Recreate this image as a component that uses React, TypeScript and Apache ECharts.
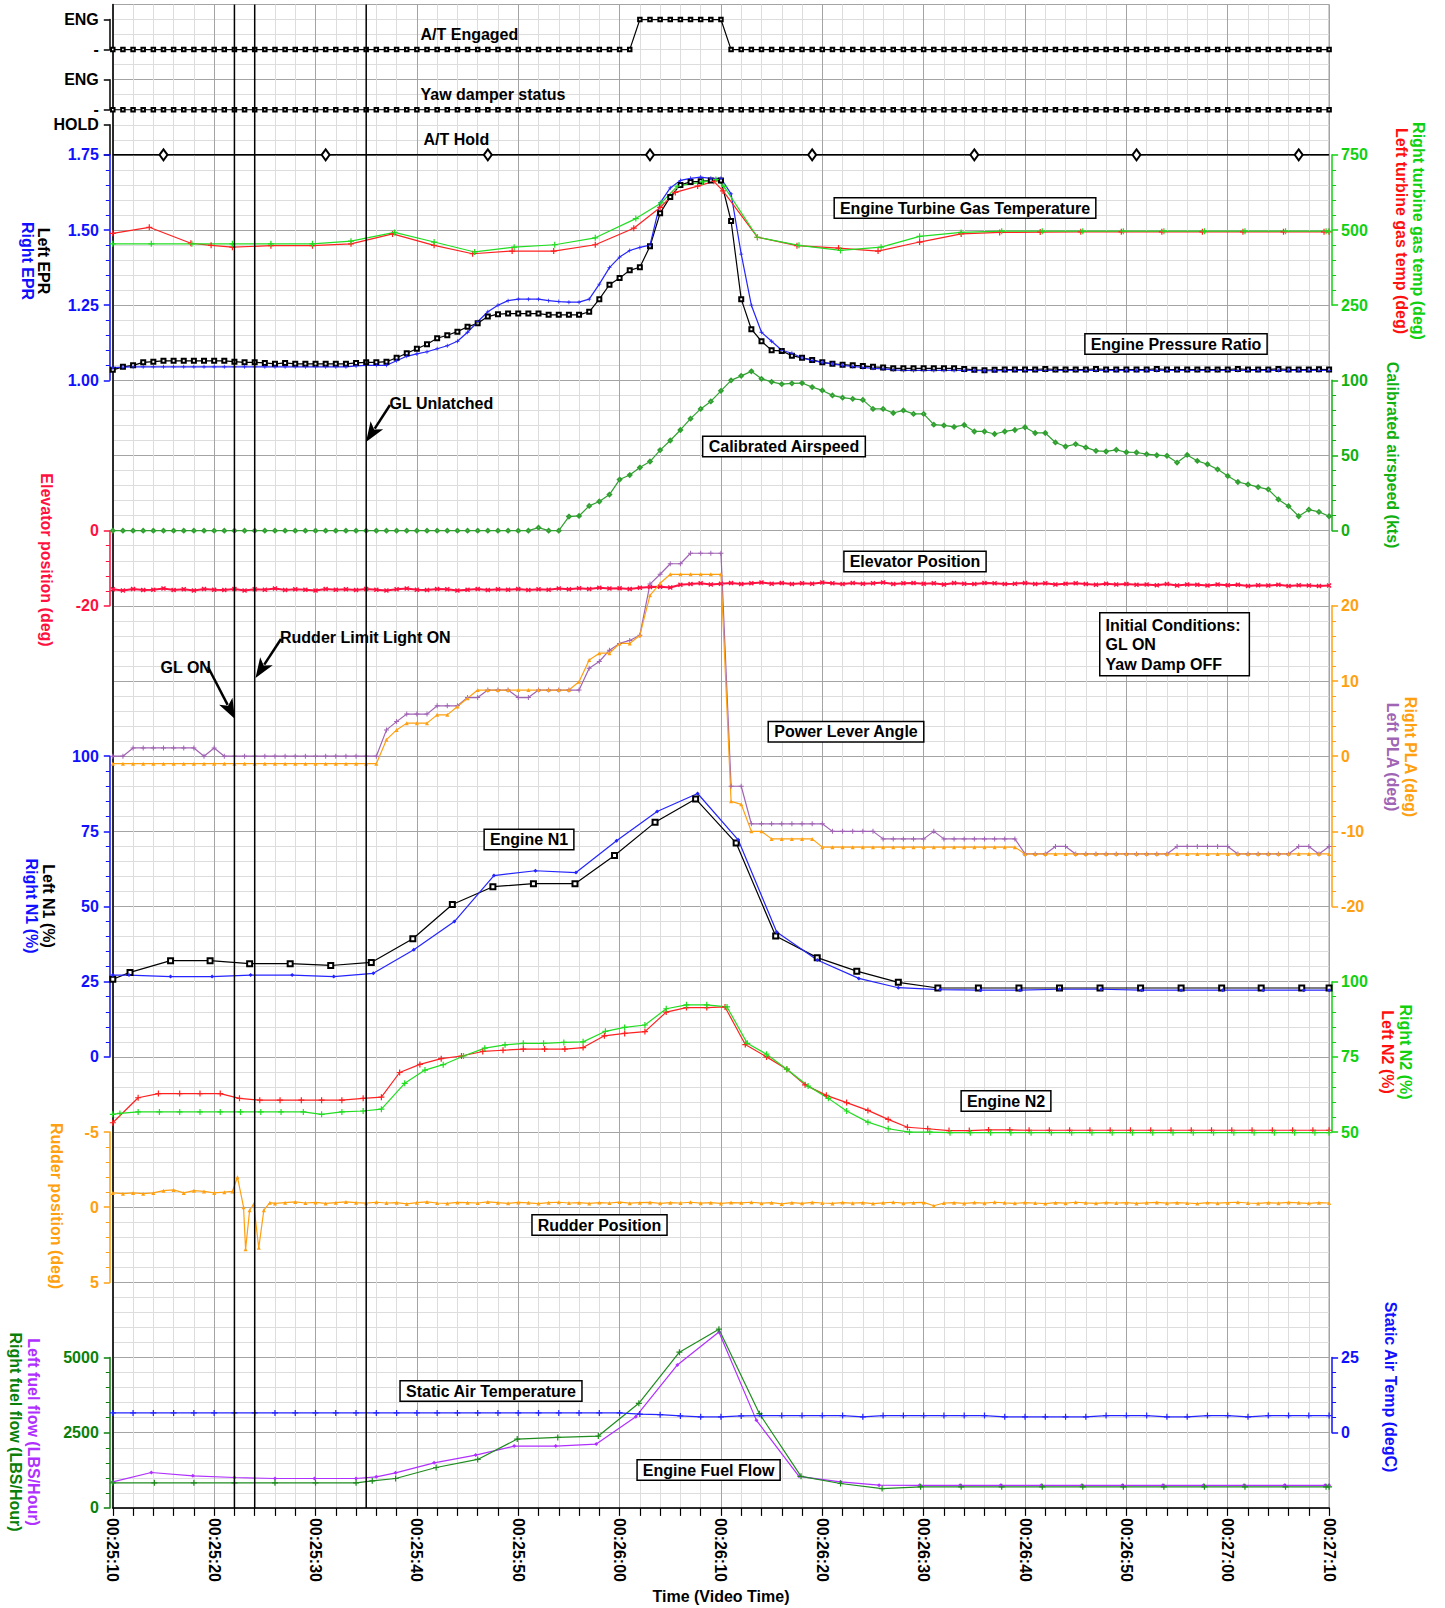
import React, { useEffect, useRef } from 'react';
import * as echarts from 'echarts';

// ---------------- time axis ----------------
const timeLabels = ['00:25:10', '00:25:20', '00:25:30', '00:25:40', '00:25:50', '00:26:00', '00:26:10',
  '00:26:20', '00:26:30', '00:26:40', '00:26:50', '00:27:00', '00:27:10'];

// event marker times, seconds after 00:25:10 (GL ON, Rudder Limit Light ON, GL Unlatched)
const eventTimes = [12, 14, 25];

// ---------------- discrete status, 1 s samples ----------------
const atEngagedBits =
  '0000000000 0000000000 0000000000 0000000000 0000000000 0011111111 1000000000 0000000000 0000000000 0000000000 0000000000 0000000000 0';
const yawDamperBits =
  '0000000000 0000000000 0000000000 0000000000 0000000000 0000000000 0000000000 0000000000 0000000000 0000000000 0000000000 0000000000 0';
const atHoldTimes = [5, 21, 37, 53, 69, 85, 101, 117];

// ---------------- EPR, 1 s samples ----------------
const eprLeft = [
  1.035, 1.045, 1.050, 1.060, 1.062, 1.065, 1.065, 1.065, 1.065, 1.065,
  1.065, 1.065, 1.062, 1.060, 1.060, 1.058, 1.055, 1.058, 1.055, 1.055,
  1.055, 1.055, 1.055, 1.055, 1.058, 1.060, 1.060, 1.062, 1.075, 1.090,
  1.105, 1.120, 1.140, 1.150, 1.162, 1.178, 1.190, 1.212, 1.220, 1.222,
  1.222, 1.222, 1.222, 1.218, 1.218, 1.218, 1.218, 1.228, 1.270, 1.318,
  1.340, 1.366, 1.376, 1.446, 1.556, 1.610, 1.650, 1.660, 1.662, 1.665,
  1.665, 1.530, 1.270, 1.170, 1.130, 1.100, 1.098, 1.082, 1.075, 1.068,
  1.060, 1.055, 1.052, 1.050, 1.048, 1.045, 1.043, 1.040, 1.040, 1.040,
  1.040, 1.040, 1.040, 1.040, 1.038, 1.035, 1.034, 1.035, 1.036, 1.036,
  1.036, 1.036, 1.038, 1.036, 1.036, 1.036, 1.036, 1.038, 1.036, 1.036,
  1.036, 1.036, 1.036, 1.038, 1.036, 1.036, 1.036, 1.036, 1.036, 1.036,
  1.036, 1.038, 1.036, 1.036, 1.036, 1.038, 1.036, 1.036, 1.036, 1.037,
  1.036,
];
const eprRight = [
  1.042, 1.044, 1.045, 1.045, 1.045, 1.045, 1.045, 1.045, 1.045, 1.045,
  1.045, 1.045, 1.045, 1.045, 1.045, 1.045, 1.045, 1.045, 1.045, 1.045,
  1.045, 1.045, 1.045, 1.045, 1.048, 1.050, 1.050, 1.050, 1.065, 1.080,
  1.088, 1.095, 1.105, 1.115, 1.130, 1.160, 1.195, 1.228, 1.250, 1.265,
  1.270, 1.270, 1.270, 1.265, 1.262, 1.260, 1.260, 1.270, 1.320, 1.375,
  1.410, 1.432, 1.442, 1.450, 1.590, 1.640, 1.665, 1.672, 1.676, 1.672,
  1.672, 1.620, 1.420, 1.250, 1.160, 1.130, 1.100, 1.090, 1.075, 1.066,
  1.060, 1.055, 1.050, 1.046, 1.043, 1.040, 1.038, 1.035, 1.033, 1.033,
  1.033, 1.033, 1.033, 1.033, 1.033, 1.033, 1.032, 1.032, 1.033, 1.033,
  1.033, 1.033, 1.033, 1.033, 1.033, 1.033, 1.033, 1.033, 1.033, 1.033,
  1.033, 1.033, 1.033, 1.033, 1.033, 1.033, 1.033, 1.033, 1.033, 1.033,
  1.033, 1.033, 1.033, 1.033, 1.033, 1.033, 1.033, 1.033, 1.033, 1.033,
  1.033,
];

// ---------------- turbine gas temperature [s, deg] ----------------
const tgtLeft = [[0, 489], [3.6, 509], [7.7, 456], [9.7, 449], [11.8, 443], [15.6, 448], [19.7, 448], [23.5, 454],
  [27.6, 487], [31.7, 449], [35.5, 421], [39.4, 430], [43.5, 430], [47.6, 451], [51.4, 506], [54.0, 575], [55.5, 625],
  [57.7, 646], [59.3, 662], [60.2, 630], [63.6, 476], [67.5, 448], [71.6, 440], [75.5, 430], [79.6, 460], [83.7, 487],
  [87.5, 492], [91.5, 493], [95.5, 494], [99.5, 494], [103.5, 494], [107.5, 494], [111.5, 494], [115.5, 494],
  [119.5, 494], [120, 494]];
const tgtRight = [[0, 454], [3.8, 454], [7.8, 454], [11.8, 454], [15.6, 454], [19.7, 454], [23.5, 463], [27.8, 492],
  [31.7, 460], [35.7, 427], [39.6, 443], [43.6, 451], [47.6, 474], [51.6, 538], [54.1, 590], [55.7, 646], [58.2, 660],
  [59.5, 668], [60.3, 645], [63.6, 476], [67.7, 449], [71.8, 432], [75.8, 443], [79.6, 479], [83.7, 492], [87.7, 496],
  [91.7, 496], [95.7, 496], [99.7, 496], [103.7, 496], [107.7, 496], [111.7, 496], [115.7, 496], [119.7, 496], [120, 496]];

// ---------------- calibrated airspeed, 1 s samples (kts) ----------------
const airspeed = [
  0, 0, 0, 0, 0, 0, 0, 0, 0, 0,
  0, 0, 0, 0, 0, 0, 0, 0, 0, 0,
  0, 0, 0, 0, 0, 0, 0, 0, 0, 0,
  0, 0, 0, 0, 0, 0, 0, 0, 0, 0,
  0, 0, 2, 0, 0, 9.4, 9.8, 16.5, 19.4, 24,
  34, 37, 42, 46, 53.6, 60, 67, 74.5, 81, 86,
  93, 100, 103, 106, 101, 99, 97.5, 98, 98.2, 95.5,
  93.3, 90, 88.5, 87.7, 87, 81, 81, 78.3, 80, 77.7,
  77.7, 70.5, 70, 69, 70.3, 66, 66, 64.3, 66, 67,
  68.8, 65, 65, 58.7, 56, 57.6, 55.4, 53.1, 52.7, 53.8,
  52.2, 52, 50.9, 50.2, 49.8, 45.3, 50.4, 46.4, 44.2, 40.8,
  36.4, 32.4, 30.8, 29, 27.5, 20.8, 16.3, 9.6, 14, 12.5,
  9.6,
];

// ---------------- elevator position, 1 s samples (deg) ----------------
const elevator = [
  -15.6, -15.9, -15.5, -15.8, -15.7, -15.4, -15.8, -15.6, -15.9, -15.5,
  -15.7, -15.8, -15.5, -15.9, -15.6, -15.7, -15.4, -15.8, -15.6, -15.7,
  -15.9, -15.5, -15.7, -15.6, -15.8, -15.5, -15.7, -15.9, -15.6, -15.4,
  -15.7, -15.8, -15.5, -15.6, -15.9, -15.7, -15.5, -15.8, -15.6, -15.7,
  -15.5, -15.8, -15.6, -15.7, -15.4, -15.6, -15.3, -15.5, -15.2, -15.4,
  -15.3, -15.5, -15.2, -15.0, -14.9, -15.1, -14.4, -14.2, -14.0, -14.3,
  -14.1, -13.9, -14.2, -14.0, -13.8, -14.1, -13.9, -14.2, -14.0, -14.1,
  -13.8, -14.0, -14.2, -13.9, -14.1, -14.0, -13.8, -14.2, -14.0, -13.9,
  -14.1, -14.0, -14.3, -13.9, -14.1, -14.2, -13.9, -14.0, -14.2, -14.1,
  -13.9, -14.2, -14.0, -14.3, -14.1, -14.0, -14.2, -14.4, -14.1, -14.3,
  -14.2, -14.4, -14.3, -14.5, -14.2, -14.6, -14.3, -14.4, -14.6, -14.3,
  -14.5, -14.4, -14.7, -14.5, -14.6, -14.4, -14.7, -14.5, -14.6, -14.7,
  -14.6,
];

// ---------------- power lever angle, 1 s samples (deg) ----------------
const plaLeft = [
  0, 0, 1.1, 1.1, 1.1, 1.1, 1.1, 1.1, 1.1, 0,
  1.1, 0, 0, 0, 0, 0, 0, 0, 0, 0,
  0, 0, 0, 0, 0, 0, 0, 3.5, 4.6, 5.6,
  5.6, 5.6, 6.7, 6.7, 6.7, 7.8, 7.8, 8.8, 8.8, 8.8,
  7.8, 7.8, 8.8, 8.8, 8.8, 8.8, 8.8, 11.7, 12.6, 14.1,
  15, 15.4, 16.1, 22.9, 24.2, 25.6, 25.6, 27, 27, 27,
  27, -4, -4, -9, -9, -9, -9, -9, -9, -9,
  -9, -10, -10, -10, -10, -10, -11, -11, -11, -11,
  -11, -10, -11, -11, -11, -11, -11, -11, -11, -11,
  -13, -13, -13, -12, -12, -13, -13, -13, -13, -13,
  -13, -13, -13, -13, -13, -12, -12, -12, -12, -12,
  -12, -13, -13, -13, -13, -13, -13, -12, -12, -13,
  -12,
];
const plaRight = [
  -1, -1, -1, -1, -1, -1, -1, -1, -1, -1,
  -1, -1, -1, -1, -1, -1, -1, -1, -1, -1,
  -1, -1, -1, -1, -1, -1, -1, 2.2, 3.5, 4.4,
  4.4, 4.4, 5.5, 5.5, 6.6, 7.7, 8.8, 8.8, 8.8, 8.8,
  8.8, 8.8, 8.8, 8.8, 8.8, 8.8, 9.9, 12.8, 13.7, 13.7,
  15, 15, 16.1, 21.4, 23, 24.2, 24.2, 24.2, 24.2, 24.2,
  24.2, -6, -6.4, -10, -10, -11, -11, -11, -11, -11,
  -12.1, -12.1, -12.1, -12.1, -12.1, -12.1, -12.1, -12.1, -12.1, -12.1,
  -12.1, -12.1, -12.1, -12.1, -12.1, -12.1, -12.1, -12.1, -12.1, -12.1,
  -13, -13, -13, -13, -13, -13, -13, -13, -13, -13,
  -13, -13, -13, -13, -13, -13, -13, -13, -13, -13,
  -13, -13, -13, -13, -13, -13, -13, -13, -13, -13,
  -13,
];

// ---------------- N1 [s, %] ----------------
const n1Left = [[0, 25.8], [1.7, 28.1], [5.7, 32], [9.6, 32], [13.5, 31], [17.5, 31], [21.5, 30.4], [25.5, 31.4],
  [29.6, 39.3], [33.5, 50.7], [37.5, 56.6], [41.5, 57.6], [45.6, 57.6], [49.5, 67], [53.5, 78], [57.5, 85.8],
  [61.5, 71.1], [65.4, 40.2], [69.5, 33], [73.4, 28.5], [77.5, 24.8], [81.4, 22.9], [85.4, 22.9], [89.4, 22.9],
  [93.4, 22.9], [97.4, 22.9], [101.4, 22.9], [105.4, 22.9], [109.4, 22.9], [113.3, 22.9], [117.3, 22.9], [120, 22.9]];
const n1Right = [[0, 27.2], [1.6, 27.2], [5.7, 26.7], [9.8, 26.7], [13.6, 27.2], [17.7, 27.2], [21.8, 26.7],
  [25.7, 27.8], [29.7, 35.6], [33.7, 45], [37.6, 60.3], [41.7, 61.9], [45.7, 61.3], [49.7, 71.9], [53.7, 81.6],
  [57.7, 87.6], [61.7, 72.2], [65.5, 41.5], [69.5, 32.2], [73.6, 26.1], [77.5, 23], [81.6, 22.4], [85.6, 22.2],
  [89.5, 22.2], [93.4, 22.5], [97.5, 22.5], [101.5, 22.2], [105.4, 22.2], [109.5, 22.2], [113.5, 22.2],
  [117.5, 22.2], [120, 22.2]];

// ---------------- N2 [s, %] ----------------
const n2Left = [[0, 53.1], [2.5, 61.4], [4.5, 62.8], [6.6, 62.8], [8.6, 62.8], [10.6, 62.8], [12.5, 61.2], [14.5, 60.6],
  [16.5, 60.6], [18.6, 60.6], [20.6, 60.6], [22.6, 60.6], [24.7, 61.2], [26.5, 61.6], [28.3, 69.8], [30.3, 72.5],
  [32.4, 74.4], [34.4, 75.3], [36.5, 76.8], [38.5, 77.2], [40.5, 77.6], [42.6, 77.6], [44.6, 77.6], [46.4, 78.1],
  [48.5, 82], [50.5, 82.8], [52.5, 83.4], [54.6, 89.9], [56.6, 91.4], [58.6, 91.4], [60.4, 91.6], [62.4, 79.1],
  [64.5, 75], [66.5, 70.9], [68.3, 65.7], [70.4, 62.2], [72.4, 59.8], [74.5, 57.2], [76.5, 54.2], [78.4, 51.6],
  [80.4, 51.1], [82.5, 50.5], [84.5, 50.5], [86.4, 50.7], [88.5, 50.7], [90.4, 50.6], [92.4, 50.6], [94.4, 50.6],
  [96.4, 50.6], [98.4, 50.6], [100.4, 50.6], [102.4, 50.6], [104.4, 50.6], [106.4, 50.6], [108.4, 50.6],
  [110.4, 50.6], [112.4, 50.6], [114.4, 50.6], [116.4, 50.6], [118.4, 50.6], [120, 50.6]];
const n2Right = [[0, 55.9], [0.7, 56.2], [2.5, 56.7], [4.6, 56.7], [6.6, 56.7], [8.6, 56.7], [10.6, 56.7], [12.6, 56.7],
  [14.6, 56.7], [16.6, 56.7], [18.8, 56.7], [20.6, 55.9], [22.6, 56.7], [24.7, 57], [26.5, 57.6], [28.8, 66.2],
  [30.8, 70.6], [32.6, 72.4], [34.6, 75.3], [36.7, 77.9], [38.7, 79], [40.5, 79.5], [42.5, 79.5], [44.5, 79.8],
  [46.4, 80], [48.6, 83.5], [50.5, 84.8], [52.5, 85.6], [54.6, 91], [56.6, 92.3], [58.6, 92.3], [60.6, 91.6],
  [62.6, 79.5], [64.5, 75.9], [66.5, 70.9], [68.6, 65.3], [70.6, 61.2], [72.4, 57], [74.5, 53.3], [76.5, 51.1],
  [78.6, 50], [80.6, 50], [82.6, 49.8], [84.6, 49.8], [86.6, 49.8], [88.6, 49.8], [90.6, 49.8], [92.6, 49.8],
  [94.6, 49.8], [96.6, 49.8], [98.6, 49.8], [100.6, 49.8], [102.6, 49.8], [104.6, 49.8], [106.6, 49.8],
  [108.6, 49.8], [110.6, 49.8], [112.6, 49.8], [114.6, 49.8], [116.6, 49.8], [118.6, 49.8], [120, 49.8]];

// ---------------- rudder position (deg) ----------------
const rudderHead = [[0, -0.95], [1, -0.9], [2, -0.95], [3, -0.9], [4, -0.95], [5, -1.1], [6, -1.15], [7, -0.95],
  [8, -1.1], [9, -1.05], [10, -0.95], [11, -1.0], [11.8, -1.05], [12.3, -2.0], [12.9, 0], [13.1, 2.8], [13.5, 0.2],
  [13.9, -0.2], [14.4, 2.7], [14.9, 0.2], [15.5, -0.3]];
// 1 s samples from 00:25:26 onwards
const rudderTail = [
  -0.25, -0.30, -0.35, -0.28, -0.32, -0.25, -0.30, -0.35, -0.30, -0.27,
  -0.33, -0.28, -0.30, -0.22, -0.30, -0.35, -0.28, -0.25, -0.32, -0.30,
  -0.28, -0.35, -0.30, -0.26, -0.32, -0.29, -0.24, -0.30, -0.33, -0.28,
  -0.30, -0.25, -0.31, -0.28, -0.34, -0.27, -0.30, -0.32, -0.26, -0.30,
  -0.28, -0.33, -0.27, -0.30, -0.25, -0.31, -0.29, -0.33, -0.27, -0.30,
  -0.22, -0.30, -0.26, -0.32, -0.28, -0.25, -0.31, -0.27, -0.30, -0.24,
  -0.29, -0.33, -0.27, -0.30, -0.32, -0.10, -0.28, -0.30, -0.25, -0.31,
  -0.27, -0.33, -0.29, -0.26, -0.31, -0.28, -0.24, -0.30, -0.27, -0.33,
  -0.29, -0.26, -0.31, -0.28, -0.30, -0.25, -0.29, -0.32, -0.27, -0.30,
  -0.28, -0.24, -0.31, -0.27, -0.30, -0.33, -0.28, -0.25, -0.30, -0.27,
  -0.32, -0.29, -0.26, -0.30, -0.28,
];
const rudderTailStart = 16;

// ---------------- fuel flow [s, LBS/Hour] ----------------
const fuelLeft = [[0, 867], [3.8, 1178], [7.9, 1067], [12, 1011], [16, 978], [19.9, 978], [24, 978], [26, 1033],
  [27.9, 1167], [31.7, 1500], [35.8, 1756], [39.6, 2055], [43.7, 2055], [47.7, 2122], [51.6, 3033], [55.7, 4755],
  [59.8, 5850], [63.5, 2911], [67.7, 1050], [71.8, 867], [75.6, 756], [79.6, 750], [83.6, 750], [87.6, 750],
  [91.6, 750], [95.6, 750], [99.6, 750], [103.6, 750], [107.6, 750], [111.6, 750], [115.6, 750], [119.6, 750], [120, 750]];
const fuelRight = [[0, 833], [4.1, 833], [8, 833], [12, 833], [16, 833], [20, 833], [24, 833], [25.6, 900],
  [27.9, 978], [31.9, 1344], [36, 1611], [39.9, 2289], [43.9, 2344], [47.9, 2389], [51.9, 3478], [55.9, 5178],
  [59.8, 5944], [63.8, 3133], [67.9, 1050], [71.8, 811], [75.9, 644], [79.7, 700], [83.7, 700], [87.7, 700],
  [91.7, 700], [95.7, 700], [99.7, 700], [103.7, 700], [107.7, 700], [111.7, 700], [115.7, 700], [119.7, 700], [120, 700]];

// ---------------- static air temperature, 2 s samples (degC) ----------------
const staticAirTemp = [
  6.6, 6.6, 6.6, 6.6, 6.6, 6.6, 6.6, 6.6, 6.6, 6.6,
  6.6, 6.6, 6.6, 6.6, 6.6, 6.6, 6.6, 6.6, 6.6, 6.6,
  6.6, 6.6, 6.6, 6.6, 6.6, 6.6,
  6.2, 6.0, 5.6, 5.3, 5.3, 5.6, 5.7, 5.7, 5.7, 5.7,
  5.7, 5.3, 5.7, 5.7, 5.7, 5.7, 5.7, 5.7, 5.3, 5.3,
  5.3, 5.3, 5.3, 5.7, 5.7, 5.7, 5.3, 5.3, 5.7, 5.7,
  5.3, 5.7, 5.7, 5.7, 5.7,
];
const satStep = 2;

// ---------------- layout ----------------
const FONT = '"Liberation Sans", Arial, Helvetica, sans-serif';
const PLOT_L = 112.8;
const PLOT_R = 1329.1;
const PLOT_T = 4.5;
const ROW = 75.17;
const rowY = (r: number) => PLOT_T + r * ROW;

const PLUS = 'path://M2,0L3,0L3,2L5,2L5,3L3,3L3,5L2,5L2,3L0,3L0,2L2,2Z';
const XMARK = 'path://M0,1L1,0L5,4L4,5ZM4,0L5,1L1,5L0,4Z';

const bits = (s: string) => s.replace(/\s/g, '').split('').map(Number);
const perSecond = (vals: number[], start = 0, step = 1) => vals.map((v, i) => [start + i * step, v]);

function gridFor(r0: number, r1: number, extra: any = {}) {
  return { left: PLOT_L, width: PLOT_R - PLOT_L, top: rowY(r0), height: rowY(r1) - rowY(r0), ...extra };
}

function valueAxis(gridIndex: number, o: any) {
  return {
    type: 'value', gridIndex, position: o.position, min: o.min, max: o.max, interval: o.interval,
    inverse: !!o.inverse, offset: 3,
    axisLine: { show: true, onZero: false, lineStyle: { color: o.color, width: 1.5 } },
    axisTick: { show: true, length: 6, lineStyle: { color: o.color, width: 1.5 } },
    minorTick: { show: o.minor !== false, splitNumber: 5, length: 4, lineStyle: { color: o.color, width: 1 } },
    splitLine: { show: false },
    minorSplitLine: { show: false },
    axisLabel: {
      color: o.labelColor || o.color, fontFamily: FONT, fontWeight: 'bold', fontSize: 16,
      margin: o.position === 'left' ? 11 : 9,
      formatter: o.fmt || ((v: number) => String(v)), showMinLabel: true, showMaxLabel: true,
    },
  };
}

function line(gi: number, data: any[], color: string, symbol: string, size: any, extra: any = {}) {
  return {
    type: 'line', xAxisIndex: gi, yAxisIndex: gi, data, clip: false, symbol, symbolSize: size,
    showSymbol: true, showAllSymbol: true, color, silent: true,
    lineStyle: { color, width: 1.2 }, itemStyle: { color }, z: 3, ...extra,
  };
}

function vText(text: string, x: number, y: number, color: string) {
  return {
    type: 'text', x, y, rotation: -Math.PI / 2, z: 60,
    style: { text, fill: color, fontSize: 16, fontWeight: 'bold', fontFamily: FONT, align: 'center', verticalAlign: 'middle' },
  };
}

function plainText(text: string, x: number, y: number, align = 'left') {
  return {
    type: 'text', x, y, z: 60,
    style: { text, fill: '#000', fontSize: 16, fontWeight: 'bold', fontFamily: FONT, align, verticalAlign: 'middle' },
  };
}

function boxText(text: string, x: number, y: number) {
  return {
    type: 'text', x, y, z: 80,
    style: {
      text, fill: '#000', fontSize: 16, fontWeight: 'bold', fontFamily: FONT, align: 'center', verticalAlign: 'middle',
      backgroundColor: '#fff', borderColor: '#000', borderWidth: 1.5, padding: [2, 5, 1, 5],
    },
  };
}

function arrow(x1: number, y1: number, x2: number, y2: number) {
  const dx = x2 - x1, dy = y2 - y1, len = Math.hypot(dx, dy);
  const ux = dx / len, uy = dy / len;
  const hl = 20, hw = 7.5;
  const bx = x2 - ux * hl, by = y2 - uy * hl;
  return [
    { type: 'line', z: 70, shape: { x1, y1, x2: bx + ux * 4, y2: by + uy * 4 }, style: { stroke: '#000', lineWidth: 2.5 } },
    {
      type: 'polygon', z: 70,
      shape: { points: [[x2, y2], [bx - uy * hw, by + ux * hw], [bx + ux * 5, by + uy * 5], [bx + uy * hw, by - ux * hw]] },
      style: { fill: '#000' },
    },
  ];
}

function buildOption() {
  // grid 0 is the shared background grid; grids 1..13 carry one value axis each
  const panels: any[] = [
    { r0: 0.2, r1: 0.6, axis: { position: 'left', min: 0, max: 1, interval: 1, color: '#000', minor: false, fmt: (v: number) => (v === 1 ? 'ENG' : '-') } },
    { r0: 1.0, r1: 1.4, axis: { position: 'left', min: 0, max: 1, interval: 1, color: '#000', minor: false, fmt: (v: number) => (v === 1 ? 'ENG' : '-') } },
    { r0: 1.6, r1: 2.0, axis: { position: 'left', min: 0, max: 1, interval: 1, color: '#000', minor: false, fmt: (v: number) => (v === 1 ? 'HOLD' : '') } },
    { r0: 2, r1: 5, axis: { position: 'left', min: 1, max: 1.75, interval: 0.25, color: '#1010ff', fmt: (v: number) => v.toFixed(2) } },
    { r0: 2, r1: 4, axis: { position: 'right', min: 250, max: 750, interval: 250, color: '#10d010' } },
    { r0: 5, r1: 7, axis: { position: 'right', min: 0, max: 100, interval: 50, color: '#10b010' } },
    { r0: 7, r1: 8, axis: { position: 'left', min: -20, max: 0, interval: 20, color: '#ff1040' } },
    { r0: 8, r1: 12, axis: { position: 'right', min: -20, max: 20, interval: 10, color: '#ffa010' } },
    { r0: 10, r1: 14, axis: { position: 'left', min: 0, max: 100, interval: 25, color: '#1010ff' } },
    { r0: 13, r1: 15, axis: { position: 'right', min: 50, max: 100, interval: 25, color: '#10d010' } },
    { r0: 15, r1: 17, axis: { position: 'left', min: -5, max: 5, interval: 5, inverse: true, color: '#ffa010' } },
    { r0: 18, r1: 20, axis: { position: 'left', min: 0, max: 5000, interval: 2500, color: '#0a800a' } },
    { r0: 18, r1: 19, axis: { position: 'right', min: 0, max: 25, interval: 25, color: '#1010ff' } },
  ];

  const grid: any[] = [gridFor(0, 20, { show: true, borderColor: '#8c8c8c', borderWidth: 1, backgroundColor: '#fff' })];
  const xAxis: any[] = [{
    type: 'value', gridIndex: 0, min: 0, max: 120, interval: 10, position: 'bottom',
    axisLine: { show: true, onZero: false, lineStyle: { color: '#000', width: 1.5 } },
    axisTick: { show: true, length: 8, lineStyle: { color: '#000', width: 1.2 } },
    minorTick: { show: true, splitNumber: 5, length: 8, lineStyle: { color: '#000', width: 1.2 } },
    splitLine: { show: true, lineStyle: { color: '#a4a4a4', width: 1 } },
    minorSplitLine: { show: true, lineStyle: { color: '#dddddd', width: 1 } },
    axisLabel: {
      rotate: -90, margin: 10, color: '#000', fontFamily: FONT, fontWeight: 'bold', fontSize: 16,
      showMinLabel: true, showMaxLabel: true,
      formatter: (v: number) => timeLabels[Math.round(v / 10)] ?? '',
    },
  }];
  const yAxis: any[] = [{
    type: 'value', gridIndex: 0, min: 0, max: 20, interval: 1, inverse: true,
    axisLine: { show: true, lineStyle: { color: '#000', width: 1.5 } },
    axisTick: { show: false }, axisLabel: { show: false },
    minorTick: { show: false, splitNumber: 5 },
    splitLine: { show: true, lineStyle: { color: '#a4a4a4', width: 1 } },
    minorSplitLine: { show: true, lineStyle: { color: '#dddddd', width: 1 } },
  }];

  panels.forEach((p, i) => {
    const gi = i + 1;
    grid.push(gridFor(p.r0, p.r1));
    xAxis.push({ type: 'value', gridIndex: gi, min: 0, max: 120, show: false });
    yAxis.push(valueAxis(gi, p.axis));
  });

  const rudder = [...rudderHead, ...perSecond(rudderTail, rudderTailStart)];
  const holdData = [
    { value: [0, 0], symbol: 'none' },
    ...atHoldTimes.map((t) => [t, 0]),
    { value: [120, 0], symbol: 'none' },
  ];

  const series: any[] = [
    ...eventTimes.map((t) => ({
      type: 'line', xAxisIndex: 0, yAxisIndex: 0, data: [[t, 0], [t, 20]], symbol: 'none', silent: true,
      lineStyle: { color: '#000', width: 1.5 }, z: 6,
    })),
    line(1, perSecond(bits(atEngagedBits)), '#000', 'emptyRect', 3.5, { itemStyle: { color: '#000', borderWidth: 0.8 } }),
    line(2, perSecond(bits(yawDamperBits)), '#000', 'emptyRect', 3.5, { itemStyle: { color: '#000', borderWidth: 0.8 } }),
    line(3, holdData, '#000', 'emptyDiamond', [8, 11], { lineStyle: { color: '#000', width: 1.5 } }),
    line(4, perSecond(eprLeft), '#000', 'emptyRect', 4, { itemStyle: { color: '#000', borderWidth: 0.9 } }),
    line(4, perSecond(eprRight), '#2424ff', PLUS, 4),
    line(5, tgtLeft, '#ff2020', PLUS, 6),
    line(5, tgtRight, '#22dd22', PLUS, 6),
    line(6, perSecond(airspeed), '#30a030', 'emptyDiamond', 3.5, { itemStyle: { color: '#30a030', borderWidth: 0.8 } }),
    line(7, perSecond(elevator), '#ff1040', XMARK, 5, { lineStyle: { color: '#ff1040', width: 2 } }),
    line(8, perSecond(plaLeft), '#a064b4', PLUS, 5),
    line(8, perSecond(plaRight), '#ffa010', 'triangle', 4),
    line(9, n1Left, '#000', 'emptyRect', 5, { itemStyle: { color: '#000', borderWidth: 0.9 } }),
    line(9, n1Right, '#2424ff', 'diamond', 4),
    line(10, n2Left, '#ff2020', PLUS, 6),
    line(10, n2Right, '#22dd22', PLUS, 6),
    line(11, rudder, '#ffa010', 'triangle', 4),
    line(12, fuelLeft, '#b030ff', 'diamond', 4),
    line(12, fuelRight, '#1e8c1e', PLUS, 6),
    line(13, perSecond(staticAirTemp, 0, satStep), '#2424ff', PLUS, 6),
  ];

  const graphics: any[] = [
    // status labels
    plainText('A/T Engaged', 420.5, 34),
    plainText('Yaw damper status', 420.5, 94.5),
    plainText('A/T Hold', 423.5, 139.5),
    // boxed panel captions
    boxText('Engine Turbine Gas Temperature', 965, 208),
    boxText('Engine Pressure Ratio', 1176, 344),
    boxText('Calibrated Airspeed', 784, 446.6),
    boxText('Elevator Position', 915, 561.5),
    boxText('Power Lever Angle', 846, 731.8),
    boxText('Engine N1', 529, 839.4),
    boxText('Engine N2', 1006, 1101),
    boxText('Rudder Position', 599.5, 1225),
    boxText('Static Air Temperature', 491, 1391),
    boxText('Engine Fuel Flow', 708.6, 1470),
    {
      type: 'text', x: 1100.5, y: 613.5, z: 80,
      style: {
        text: 'Initial Conditions:\nGL ON\nYaw Damp OFF', fill: '#000', fontSize: 16, fontWeight: 'bold', fontFamily: FONT,
        lineHeight: 19.5, align: 'left', verticalAlign: 'top', backgroundColor: '#fff', borderColor: '#000',
        borderWidth: 1.5, padding: [2, 8, 1, 5],
      },
    },
    // event annotations
    plainText('GL Unlatched', 389.5, 403),
    plainText('Rudder Limit Light ON', 280, 637),
    plainText('GL ON', 160.5, 667.5),
    ...arrow(390, 405, 366, 442),
    ...arrow(281, 639, 255.5, 678),
    ...arrow(208, 667, 235, 719),
    // left axis titles
    vText('Left EPR', 43, 261, '#000'),
    vText('Right EPR', 27, 261, '#1010ff'),
    vText('Elevator position (deg)', 46, 560, '#ff1040'),
    vText('Left N1 (%)', 48.5, 906, '#000'),
    vText('Right N1 (%)', 31, 906, '#1010ff'),
    vText('Rudder position (deg)', 56.5, 1206, '#ffa010'),
    vText('Left fuel flow (LBS/Hour)', 33, 1432, '#b030ff'),
    vText('Right fuel flow (LBS/Hour)', 15.5, 1432, '#0a800a'),
    // right axis titles
    vText('Right turbine gas temp (deg)', 1418, 231, '#10d010'),
    vText('Left turbine gas temp (deg)', 1401, 231, '#ff1010'),
    vText('Calibrated airspeed (kts)', 1392, 455, '#10b010'),
    vText('Right PLA (deg)', 1410, 757, '#ffa010'),
    vText('Left PLA (deg)', 1392, 757, '#a064b4'),
    vText('Right N2 (%)', 1405, 1052, '#10d010'),
    vText('Left N2 (%)', 1387, 1052, '#ff1010'),
    vText('Static Air Temp (degC)', 1390, 1387, '#1010ff'),
    // time axis title
    plainText('Time (Video Time)', 721, 1596, 'center'),
  ];

  return {
    animation: false,
    backgroundColor: '#fff',
    grid, xAxis, yAxis, series,
    graphic: { elements: graphics },
  };
}

export default function App() {
  const ref = useRef<HTMLDivElement>(null);
  useEffect(() => {
    document.body.style.margin = '0';
    const chart = echarts.init(ref.current as HTMLDivElement, null, { renderer: 'svg' });
    chart.setOption(buildOption() as any);
    return () => chart.dispose();
  }, []);
  return <div ref={ref} style={{ width: 1445, height: 1608, background: '#fff' }} />;
}
